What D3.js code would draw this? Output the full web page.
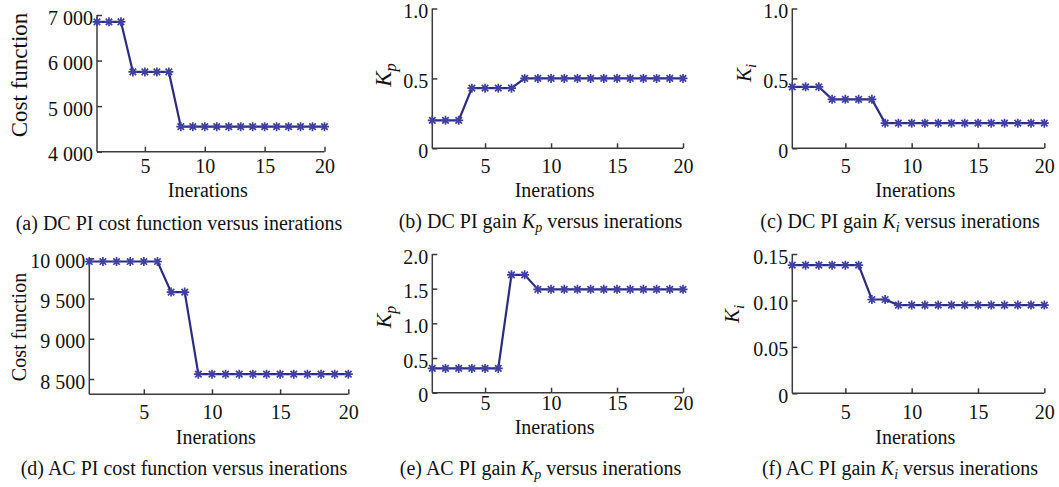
<!DOCTYPE html>
<html>
<head>
<meta charset="utf-8">
<script src="https://cdn.jsdelivr.net/npm/d3@7"></script>
<style>
  body { margin: 0; background: #fff; }
  svg text { font-family: "Liberation Serif", "Times New Roman", serif; fill: #111; }
</style>
</head>
<body>
<svg id="chart" width="1059" height="487"></svg>
<script>
// iterations on the x axis
var iterations = [1, 2, 3, 4, 5, 6, 7, 8, 9, 10, 11, 12, 13, 14, 15, 16, 17, 18, 19, 20];
var xTicks = [5, 10, 15, 20];

// series
var dcCost = [6850, 6850, 6850, 5750, 5750, 5750, 5750, 4550, 4550, 4550, 4550, 4550, 4550, 4550, 4550, 4550, 4550, 4550, 4550, 4550];
var dcKp = [0.2, 0.2, 0.2, 0.43, 0.43, 0.43, 0.43, 0.5, 0.5, 0.5, 0.5, 0.5, 0.5, 0.5, 0.5, 0.5, 0.5, 0.5, 0.5, 0.5];
var dcKi = [0.44, 0.44, 0.44, 0.35, 0.35, 0.35, 0.35, 0.18, 0.18, 0.18, 0.18, 0.18, 0.18, 0.18, 0.18, 0.18, 0.18, 0.18, 0.18, 0.18];
var acCost = [9960, 9960, 9960, 9960, 9960, 9960, 9580, 9580, 8560, 8560, 8560, 8560, 8560, 8560, 8560, 8560, 8560, 8560, 8560, 8560];
var acKp = [0.35, 0.35, 0.35, 0.35, 0.35, 0.35, 1.7, 1.7, 1.49, 1.49, 1.49, 1.49, 1.49, 1.49, 1.49, 1.49, 1.49, 1.49, 1.49, 1.49];
var acKi = [0.138, 0.138, 0.138, 0.138, 0.138, 0.138, 0.101, 0.101, 0.095, 0.095, 0.095, 0.095, 0.095, 0.095, 0.095, 0.095, 0.095, 0.095, 0.095, 0.095];

// y tick values and labels
var costTicksDC = [4000, 5000, 6000, 7000];
var costLabelsDC = ["4 000", "5 000", "6 000", "7 000"];
var costTicksAC = [8500, 9000, 9500, 10000];
var costLabelsAC = ["8 500", "9 000", "9 500", "10 000"];
var gainTicks01 = [0, 0.5, 1.0];
var gainLabels01 = ["0", "0.5", "1.0"];
var gainTicks02 = [0, 0.5, 1.0, 1.5, 2.0];
var gainLabels02 = ["0", "0.5", "1.0", "1.5", "2.0"];
var kiTicksAC = [0, 0.05, 0.10, 0.15];
var kiLabelsAC = ["0", "0.05", "0.10", "0.15"];

var captions = [
  ["(a) DC PI cost function versus inerations"],
  ["(b) DC PI gain ", "K", "p", " versus inerations"],
  ["(c) DC PI gain ", "K", "i", " versus inerations"],
  ["(d) AC PI cost function versus inerations"],
  ["(e) AC PI gain ", "K", "p", " versus inerations"],
  ["(f) AC PI gain ", "K", "i", " versus inerations"]
];

var lineColor = "#2c2c7e", markColor = "#4040a4", axisColor = "#3a3a3a";

// x0/x1: where iteration 1 and 20 sit; y0/y1: bottom and top of the y axis
var panels = [
  { values: dcCost, domain: [4000, 7000], ticks: costTicksDC, labels: costLabelsDC, ylab: "cost", ylabSize: 23,
    x0: 97, x1: 324.5, y0: 151.7, y1: 15, tickY: 173, xlabY: 197, capX: 179, capY: 230, ylabX: 27, ylabY: 75 },
  { values: dcKp, domain: [0, 1], ticks: gainTicks01, labels: gainLabels01, ylab: "p", ylabSize: 23,
    x0: 432.3, x1: 683, y0: 148.3, y1: 8.5, tickY: 173, xlabY: 197, capX: 540.5, capY: 228, ylabX: 391, ylabY: 75 },
  { values: dcKi, domain: [0, 1], ticks: gainTicks01, labels: gainLabels01, ylab: "i", ylabSize: 21,
    x0: 792.3, x1: 1044.3, y0: 148.3, y1: 8.5, tickY: 173, xlabY: 197, capX: 900, capY: 228, ylabX: 751, ylabY: 73 },
  { values: acCost, domain: [8310, 10000], ticks: costTicksAC, labels: costLabelsAC, ylab: "cost", ylabSize: 20,
    x0: 89.3, x1: 348.3, y0: 394.3, y1: 258.3, tickY: 419, xlabY: 444, capX: 184, capY: 475, ylabX: 26, ylabY: 327 },
  { values: acKp, domain: [0, 2], ticks: gainTicks02, labels: gainLabels02, ylab: "p", ylabSize: 22,
    x0: 432.3, x1: 683, y0: 392.7, y1: 254, tickY: 410, xlabY: 434, capX: 540.5, capY: 475, ylabX: 391, ylabY: 317 },
  { values: acKi, domain: [0, 0.15], ticks: kiTicksAC, labels: kiLabelsAC, ylab: "i", ylabSize: 21,
    x0: 792.3, x1: 1044.3, y0: 393.3, y1: 254, tickY: 419, xlabY: 444, capX: 900, capY: 475, ylabX: 739, ylabY: 314 }
];

var svg = d3.select("#chart");
var fs = 20;

// asterisk marker: plus and cross
function star(r) {
  var d = r * 0.72;
  return "M" + (-r) + ",0L" + r + ",0M0," + (-r) + "L0," + r +
    "M" + (-d) + "," + (-d) + "L" + d + "," + d + "M" + (-d) + "," + d + "L" + d + "," + (-d);
}

panels.forEach(function (p, i) {
  var x = d3.scaleLinear().domain([1, 20]).range([p.x0, p.x1]);
  var y = d3.scaleLinear().domain(p.domain).range([p.y0, p.y1]);
  var g = svg.append("g");

  // x axis, ticks pointing inward
  var xa = g.append("g").attr("transform", "translate(0," + p.y0 + ")")
    .call(d3.axisBottom(x).tickValues(xTicks).tickSizeInner(-5).tickSizeOuter(0).tickPadding(0).tickFormat(d3.format("d")));
  xa.select(".domain").attr("d", "M" + p.x0 + ",0H" + p.x1);
  xa.selectAll(".tick text").attr("y", p.tickY - p.y0).attr("dy", 0);

  // y axis, ticks pointing inward
  var ya = g.append("g").attr("transform", "translate(" + p.x0 + ",0)")
    .call(d3.axisLeft(y).tickValues(p.ticks).tickSizeInner(-5).tickSizeOuter(0).tickPadding(4)
      .tickFormat(function (d, k) { return p.labels[k]; }));
  ya.select(".domain").attr("d", "M0," + p.y0 + "V" + p.y1);
  ya.selectAll(".tick text").attr("x", -4).attr("dy", "0.45em");

  [xa, ya].forEach(function (a) {
    a.selectAll(".domain, .tick line").attr("stroke", axisColor).attr("stroke-width", 1.5);
    a.selectAll(".tick text").attr("font-size", fs).attr("font-family", null).attr("fill", "#111");
  });

  // x label
  g.append("text").attr("x", (p.x0 + p.x1) / 2 - 3).attr("y", p.xlabY)
    .attr("text-anchor", "middle").attr("font-size", fs).text("Inerations");

  // y label
  var yl = g.append("text")
    .attr("transform", "translate(" + p.ylabX + "," + p.ylabY + ") rotate(-90)")
    .attr("text-anchor", "middle").attr("font-size", p.ylabSize);
  if (p.ylab === "cost") {
    yl.text("Cost function");
  } else {
    yl.append("tspan").attr("font-style", "italic").text("K");
    yl.append("tspan").attr("font-style", "italic").attr("font-size", p.ylabSize * 0.72).attr("dy", "0.3em").text(p.ylab);
  }

  // line and markers
  var pts = iterations.map(function (it, k) { return [it, p.values[k]]; });
  g.append("path").datum(pts)
    .attr("fill", "none").attr("stroke", lineColor).attr("stroke-width", 2.2)
    .attr("d", d3.line().x(function (d) { return x(d[0]); }).y(function (d) { return y(d[1]); }));
  g.selectAll(".mk").data(pts).enter().append("path")
    .attr("transform", function (d) { return "translate(" + x(d[0]) + "," + y(d[1]) + ")"; })
    .attr("d", star(4.5)).attr("stroke", markColor).attr("stroke-width", 1.7).attr("fill", "none");

  // caption
  var cap = g.append("text").attr("x", p.capX).attr("y", p.capY)
    .attr("text-anchor", "middle").attr("font-size", fs);
  var parts = captions[i];
  cap.append("tspan").text(parts[0]);
  if (parts.length > 1) {
    cap.append("tspan").attr("font-style", "italic").text(parts[1]);
    cap.append("tspan").attr("font-style", "italic").attr("font-size", fs * 0.7).attr("dy", "0.3em").text(parts[2]);
    cap.append("tspan").attr("dy", "-0.21em").text(parts[3]);
  }
});
</script>
</body>
</html>
